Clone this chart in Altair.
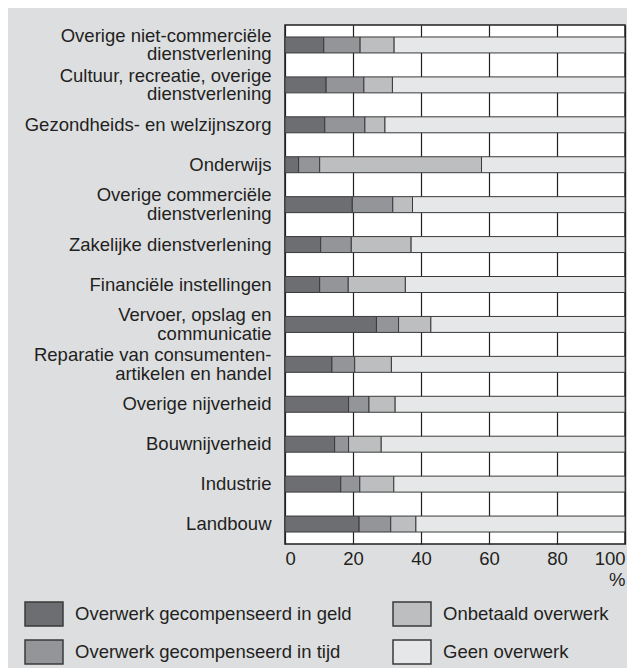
import altair as alt
import pandas as pd

categories = [
    "Overige niet-commerciële|dienstverlening",
    "Cultuur, recreatie, overige|dienstverlening",
    "Gezondheids- en welzijnszorg",
    "Onderwijs",
    "Overige commerciële|dienstverlening",
    "Zakelijke dienstverlening",
    "Financiële instellingen",
    "Vervoer, opslag  en|communicatie",
    "Reparatie van consumenten-|artikelen en handel",
    "Overige nijverheid",
    "Bouwnijverheid",
    "Industrie",
    "Landbouw",
]

series = [
    "Overwerk gecompenseerd in geld",
    "Overwerk gecompenseerd in tijd",
    "Onbetaald overwerk",
    "Geen overwerk",
]
series_colors = ["#6d6e71", "#939598", "#bcbec0", "#e6e7e8"]

geld = [11.4, 12.1, 11.7, 4.0, 19.8, 10.5, 10.2, 26.9, 13.8, 18.7, 14.6, 16.4, 21.8]
tijd = [10.7, 11.1, 11.8, 6.2, 11.9, 9.0, 8.4, 6.5, 6.7, 6.0, 4.1, 5.6, 9.3]
onbetaald = [10.0, 8.4, 5.9, 47.6, 5.8, 17.6, 16.8, 9.5, 10.8, 7.7, 9.6, 10.0, 7.4]
geen = [67.9, 68.4, 70.6, 42.2, 62.5, 62.9, 64.6, 57.1, 68.7, 67.6, 71.7, 68.0, 61.5]

rows = []
for i, c in enumerate(categories):
    for k, (s, vals) in enumerate(zip(series, [geld, tijd, onbetaald, geen])):
        rows.append({"cat": c, "serie": s, "val": vals[i], "ord": k})
df = pd.DataFrame(rows)

FONT = "Liberation Sans"
TXT = "#231f20"

chart = (
    alt.Chart(df)
    .mark_bar(stroke="#3a3a3a", strokeWidth=1)
    .encode(
        y=alt.Y(
            "cat:N",
            sort=categories,
            scale=alt.Scale(paddingInner=0.6, paddingOuter=0.3),
            axis=alt.Axis(
                title=None,
                labelExpr="split(datum.label, '|')",
                labelFontSize=18.5,
                labelLineHeight=18.5,
                labelPadding=14,
                labelOffset={
                    "condition": {"test": "indexof(datum.value, '|') >= 0", "value": -9.25},
                    "value": 0,
                },
                labelColor=TXT,
                labelFont=FONT,
                ticks=False,
                domain=False,
                labelLimit=400,
            ),
        ),
        x=alt.X(
            "val:Q",
            stack="zero",
            scale=alt.Scale(domain=[0, 100], nice=False),
            axis=alt.Axis(
                values=[0, 20, 40, 60, 80, 100],
                grid=True,
                gridColor=TXT,
                gridWidth=1.2,
                ticks=False,
                tickSize=0,
                domain=False,
                labelFontSize=18.5,
                labelColor=TXT,
                labelFont=FONT,
                labelPadding=5,
                title="%",
                titleFont=FONT,
                titleFontSize=18.5,
                titleFontWeight="normal",
                titleColor=TXT,
                titleX=340,
                titleY=41,
                titleAlign="right",
                titleBaseline="alphabetic",
            ),
        ),
        color=alt.Color(
            "serie:N",
            scale=alt.Scale(domain=series, range=series_colors),
            legend=alt.Legend(
                title=None,
                orient="none",
                legendX=-254,
                legendY=576,
                columns=2,
                columnPadding=38,
                rowPadding=8,
                symbolType="M-1.583,-1H1.583V1H-1.583Z",
                symbolSize=576,
                symbolStrokeColor="#3a3a3a",
                symbolStrokeWidth=1.5,
                symbolOpacity=1,
                labelFontSize=18.5,
                labelFont=FONT,
                labelColor=TXT,
                labelOffset=18,
                labelLimit=400,
            ),
        ),
        order=alt.Order("ord:Q"),
    )
    .properties(
        width=340,
        height=519,
        background="#dddee0",
        padding={"left": 277, "top": 17, "right": 2, "bottom": 124},
        autosize=alt.AutoSizeParams(type="none"),
    )
    .configure_view(stroke=TXT, strokeWidth=1.5, fill="white")
)

chart.save("out.html", embed_options={"renderer": "svg", "actions": False})
